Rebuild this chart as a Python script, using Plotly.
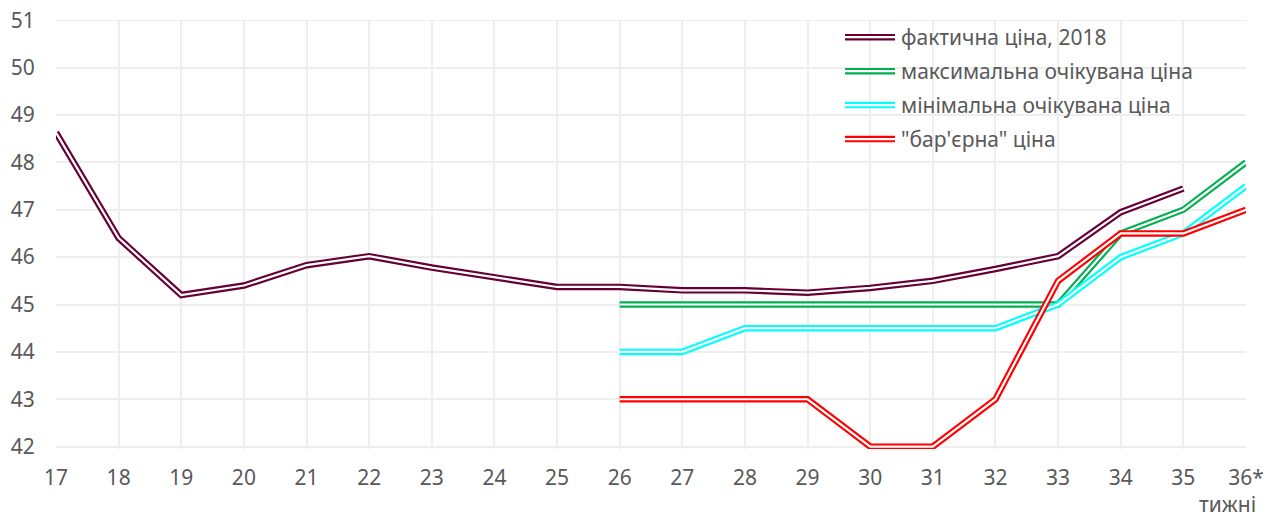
import plotly.graph_objects as go

weeks = list(range(17, 37))
tick_text = [str(w) for w in range(17, 36)] + ["36*"]

actual_weeks = list(range(17, 36))
actual = [48.63, 46.4, 45.2, 45.4, 45.83, 46.02, 45.78, 45.58, 45.37, 45.37,
          45.3, 45.3, 45.25, 45.35, 45.5, 45.75, 46.02, 46.95, 47.45]

fc_weeks = list(range(26, 37))
max_exp = [45.0, 45.0, 45.0, 45.0, 45.0, 45.0, 45.0, 45.0, 46.5, 47.0, 48.0]
min_exp = [44.0, 44.0, 44.5, 44.5, 44.5, 44.5, 44.5, 45.0, 46.0, 46.5, 47.5]
barrier = [43.0, 43.0, 43.0, 43.0, 42.0, 42.0, 43.0, 45.5, 46.5, 46.5, 47.0]

names = ["фактична ціна, 2018", "максимальна очікувана ціна",
         "мінімальна очікувана ціна", "\"бар'єрна\" ціна"]
colors = ["#660033", "#00B050", "#00FFFF", "#FF0000"]
series = [(actual_weeks, actual), (fc_weeks, max_exp), (fc_weeks, min_exp), (fc_weeks, barrier)]

# page offset from default body margin
OFF = 8
PAGE_W, PAGE_H = 1273, 517
W, H = PAGE_W - OFF, PAGE_H - OFF
# target plot area in page pixels
PX0, PX1 = 56, 1246
PY0, PY1 = 19.8, 449.4
L = PX0 - OFF
T = PY0 - OFF
R = PAGE_W - PX1
B = PAGE_H - PY1
YMIN, YMAX = 41.95, 51.005
FONT = "Noto Sans"
FS = 21
GRAY = "#595959"
GRID = "#eeeeee"

fig = go.Figure()
for (xs, ys), name, col in zip(series, names, colors):
    fig.add_trace(go.Scatter(x=xs, y=ys, mode="lines", name=name,
                             line=dict(color=col, width=6.5), showlegend=False))
    fig.add_trace(go.Scatter(x=xs, y=ys, mode="lines", hoverinfo="skip",
                             line=dict(color="white", width=2.2), showlegend=False))

pw = PX1 - PX0
ph = PY1 - PY0


def px2x(px):
    return (px - PX0) / pw


def py2y(py):
    return (PY1 - py) / ph


shapes = []
annotations = []
legend_rows = [37, 71, 105, 139]
for name, col, ry in zip(names, colors, legend_rows):
    for c, w in ((col, 6.5), ("white", 2.2)):
        shapes.append(dict(type="line", xref="paper", yref="paper",
                           x0=px2x(845), x1=px2x(895), y0=py2y(ry), y1=py2y(ry),
                           line=dict(color=c, width=w)))
    annotations.append(dict(x=px2x(899), y=py2y(ry), xref="paper", yref="paper",
                            text=name, showarrow=False, xanchor="left", yanchor="middle",
                            font=dict(family=FONT, size=FS, color=GRAY)))

# bottom axis line at 42 and top gridline at 51
shapes.append(dict(type="line", xref="paper", yref="y", x0=0, x1=1, y0=42, y1=42,
                   line=dict(color="#d9d9d9", width=1.5), layer="below"))
shapes.append(dict(type="line", xref="paper", yref="y", x0=0, x1=1, y0=51, y1=51,
                   line=dict(color=GRID, width=1.5), layer="below"))

annotations.append(dict(x=px2x(1227), y=py2y(504), xref="paper", yref="paper", text="тижні",
                        showarrow=False, xanchor="center", yanchor="middle",
                        font=dict(family=FONT, size=FS, color=GRAY)))

fig.update_layout(
    width=W, height=H,
    margin=dict(l=L, r=R, t=T, b=B, autoexpand=False),
    plot_bgcolor="white", paper_bgcolor="white",
    font=dict(family=FONT, size=FS, color=GRAY),
    shapes=shapes, annotations=annotations,
    xaxis=dict(range=[17, 36], tickmode="array", tickvals=weeks, ticktext=tick_text,
               showgrid=True, gridcolor=GRID, gridwidth=1.5, zeroline=False,
               showline=False, ticks="outside", ticklen=10, tickcolor="rgba(0,0,0,0)",
               automargin=False, ticklabeloverflow="allow",
               tickfont=dict(family=FONT, size=FS, color=GRAY)),
    yaxis=dict(range=[YMIN, YMAX], tickmode="array", tickvals=list(range(42, 52)),
               showgrid=True, gridcolor=GRID, gridwidth=1.5, zeroline=False,
               showline=False, ticks="outside", ticklen=16, tickcolor="rgba(0,0,0,0)",
               automargin=False, ticklabeloverflow="allow",
               tickfont=dict(family=FONT, size=FS, color=GRAY)),
)

fig.write_html("out.html")
